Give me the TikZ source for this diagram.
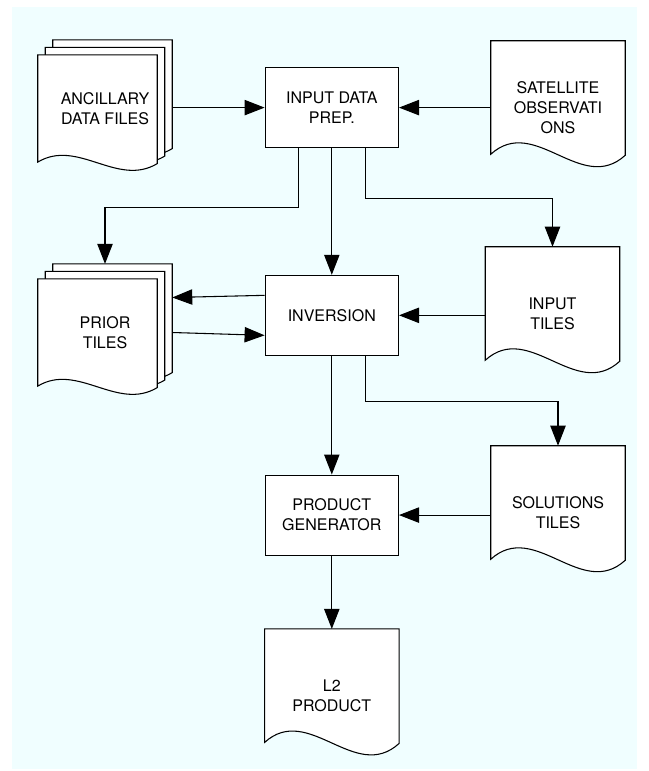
\documentclass[tikz,border=0pt]{standalone}
\usepackage{fontspec}
\setmainfont{TeX Gyre Heros}
\usepackage{xcolor}
\usetikzlibrary{arrows.meta,positioning,backgrounds}
\definecolor{bgcyan}{RGB}{240,254,255}

% one document sheet with a wavy lower edge
\newcommand{\docsheet}[1]{%
  \draw[sheet] (#1.north west) -- (#1.north east) -- ([shift={(0,-19)}]#1.south east)
    .. controls +(-44,40) and +(44,-40) .. ([shift={(0,-20)}]#1.south west) -- cycle;}
% one sheet of a pile, shifted up and right by #2
\newcommand{\pilesheet}[2]{%
  \draw[sheet] ([shift={(#2,-#2)}]#1.north west) -- ([shift={(#2-15,-#2)}]#1.north east)
    -- ([shift={(#2-15,-#2+1.5)}]#1.south east)
    .. controls +(-40,24) and +(40,-24) .. ([shift={(#2,-#2)}]#1.south west) -- cycle;}

\begin{document}
\begin{tikzpicture}[x=0.75pt, y=-0.75pt, font=\fontsize{12}{15}\selectfont,
  procbox/.style={draw, fill=white, line width=0.8pt, align=center, minimum width=100pt, minimum height=60pt, inner sep=2pt},
  docnode/.style={align=center, minimum width=100.5pt, minimum height=99.75pt, inner sep=0pt},
  pilenode/.style={align=center, minimum width=100.5pt, minimum height=80pt, inner sep=0pt},
  sheet/.style={draw, fill=white, line width=0.8pt},
  arr/.style={line width=0.8pt, -{Triangle[length=15pt,width=11.5pt]}},
]
\useasboundingbox (0,0) rectangle (649,771);

\node[procbox] (prep) at (331.8,107.6) {INPUT DATA\\PREP.};
\node[procbox, below=95pt of prep] (inv) {INVERSION};
\node[procbox, below=89pt of inv] (pgen) {PRODUCT\\GENERATOR};
\node[docnode, below=55pt of pgen] (l2) {L2\\PRODUCT};

\node[pilenode] (anc) at (105,108.5) {ANCILLARY\\DATA FILES};
\node[pilenode] (prior) at (105,332.5) {PRIOR\\TILES};
\node[docnode] (sat) at (558,107.5) {SATELLITE\\OBSERVATI\\ONS};
\node[docnode] (intiles) at (552.5,313.5) {INPUT\\TILES};
\node[docnode] (sol) at (558,512.5) {SOLUTIONS\\TILES};

\begin{scope}[on background layer]
  \fill[bgcyan] (11.6,7.4) rectangle (637.4,769);
  \foreach \o in {15,7.5,0} {\pilesheet{anc}{\o} \pilesheet{prior}{\o}}
  \docsheet{sat}
  \docsheet{intiles}
  \docsheet{sol}
  \docsheet{l2}
\end{scope}

% data flow
\draw[arr] (anc.east |- prep.west) -- (prep.west);
\draw[arr] (sat.west |- prep.east) -- (prep.east);
\draw[arr] ([xshift=-25pt]prep.south) -- ++(0,59) -| ([yshift=11.25pt]prior.north);
\draw[arr] (prep.south) -- (inv.north);
\draw[arr] ([xshift=25pt]prep.south) -- ++(0,50) -| (intiles.north);
\draw[arr] ([yshift=15pt]inv.west) -- ([yshift=26.25pt]prior.east);
\draw[arr] (prior.east) -- ([yshift=-15pt]inv.west);
\draw[arr] (intiles.west |- inv.east) -- (inv.east);
\draw[arr] (inv.south) -- (pgen.north);
\draw[arr] ([xshift=25pt]inv.south) -- ++(0,46) -| (sol.north);
\draw[arr] (sol.west |- pgen.east) -- (pgen.east);
\draw[arr] (pgen.south) -- (l2.north);
\end{tikzpicture}
\end{document}
